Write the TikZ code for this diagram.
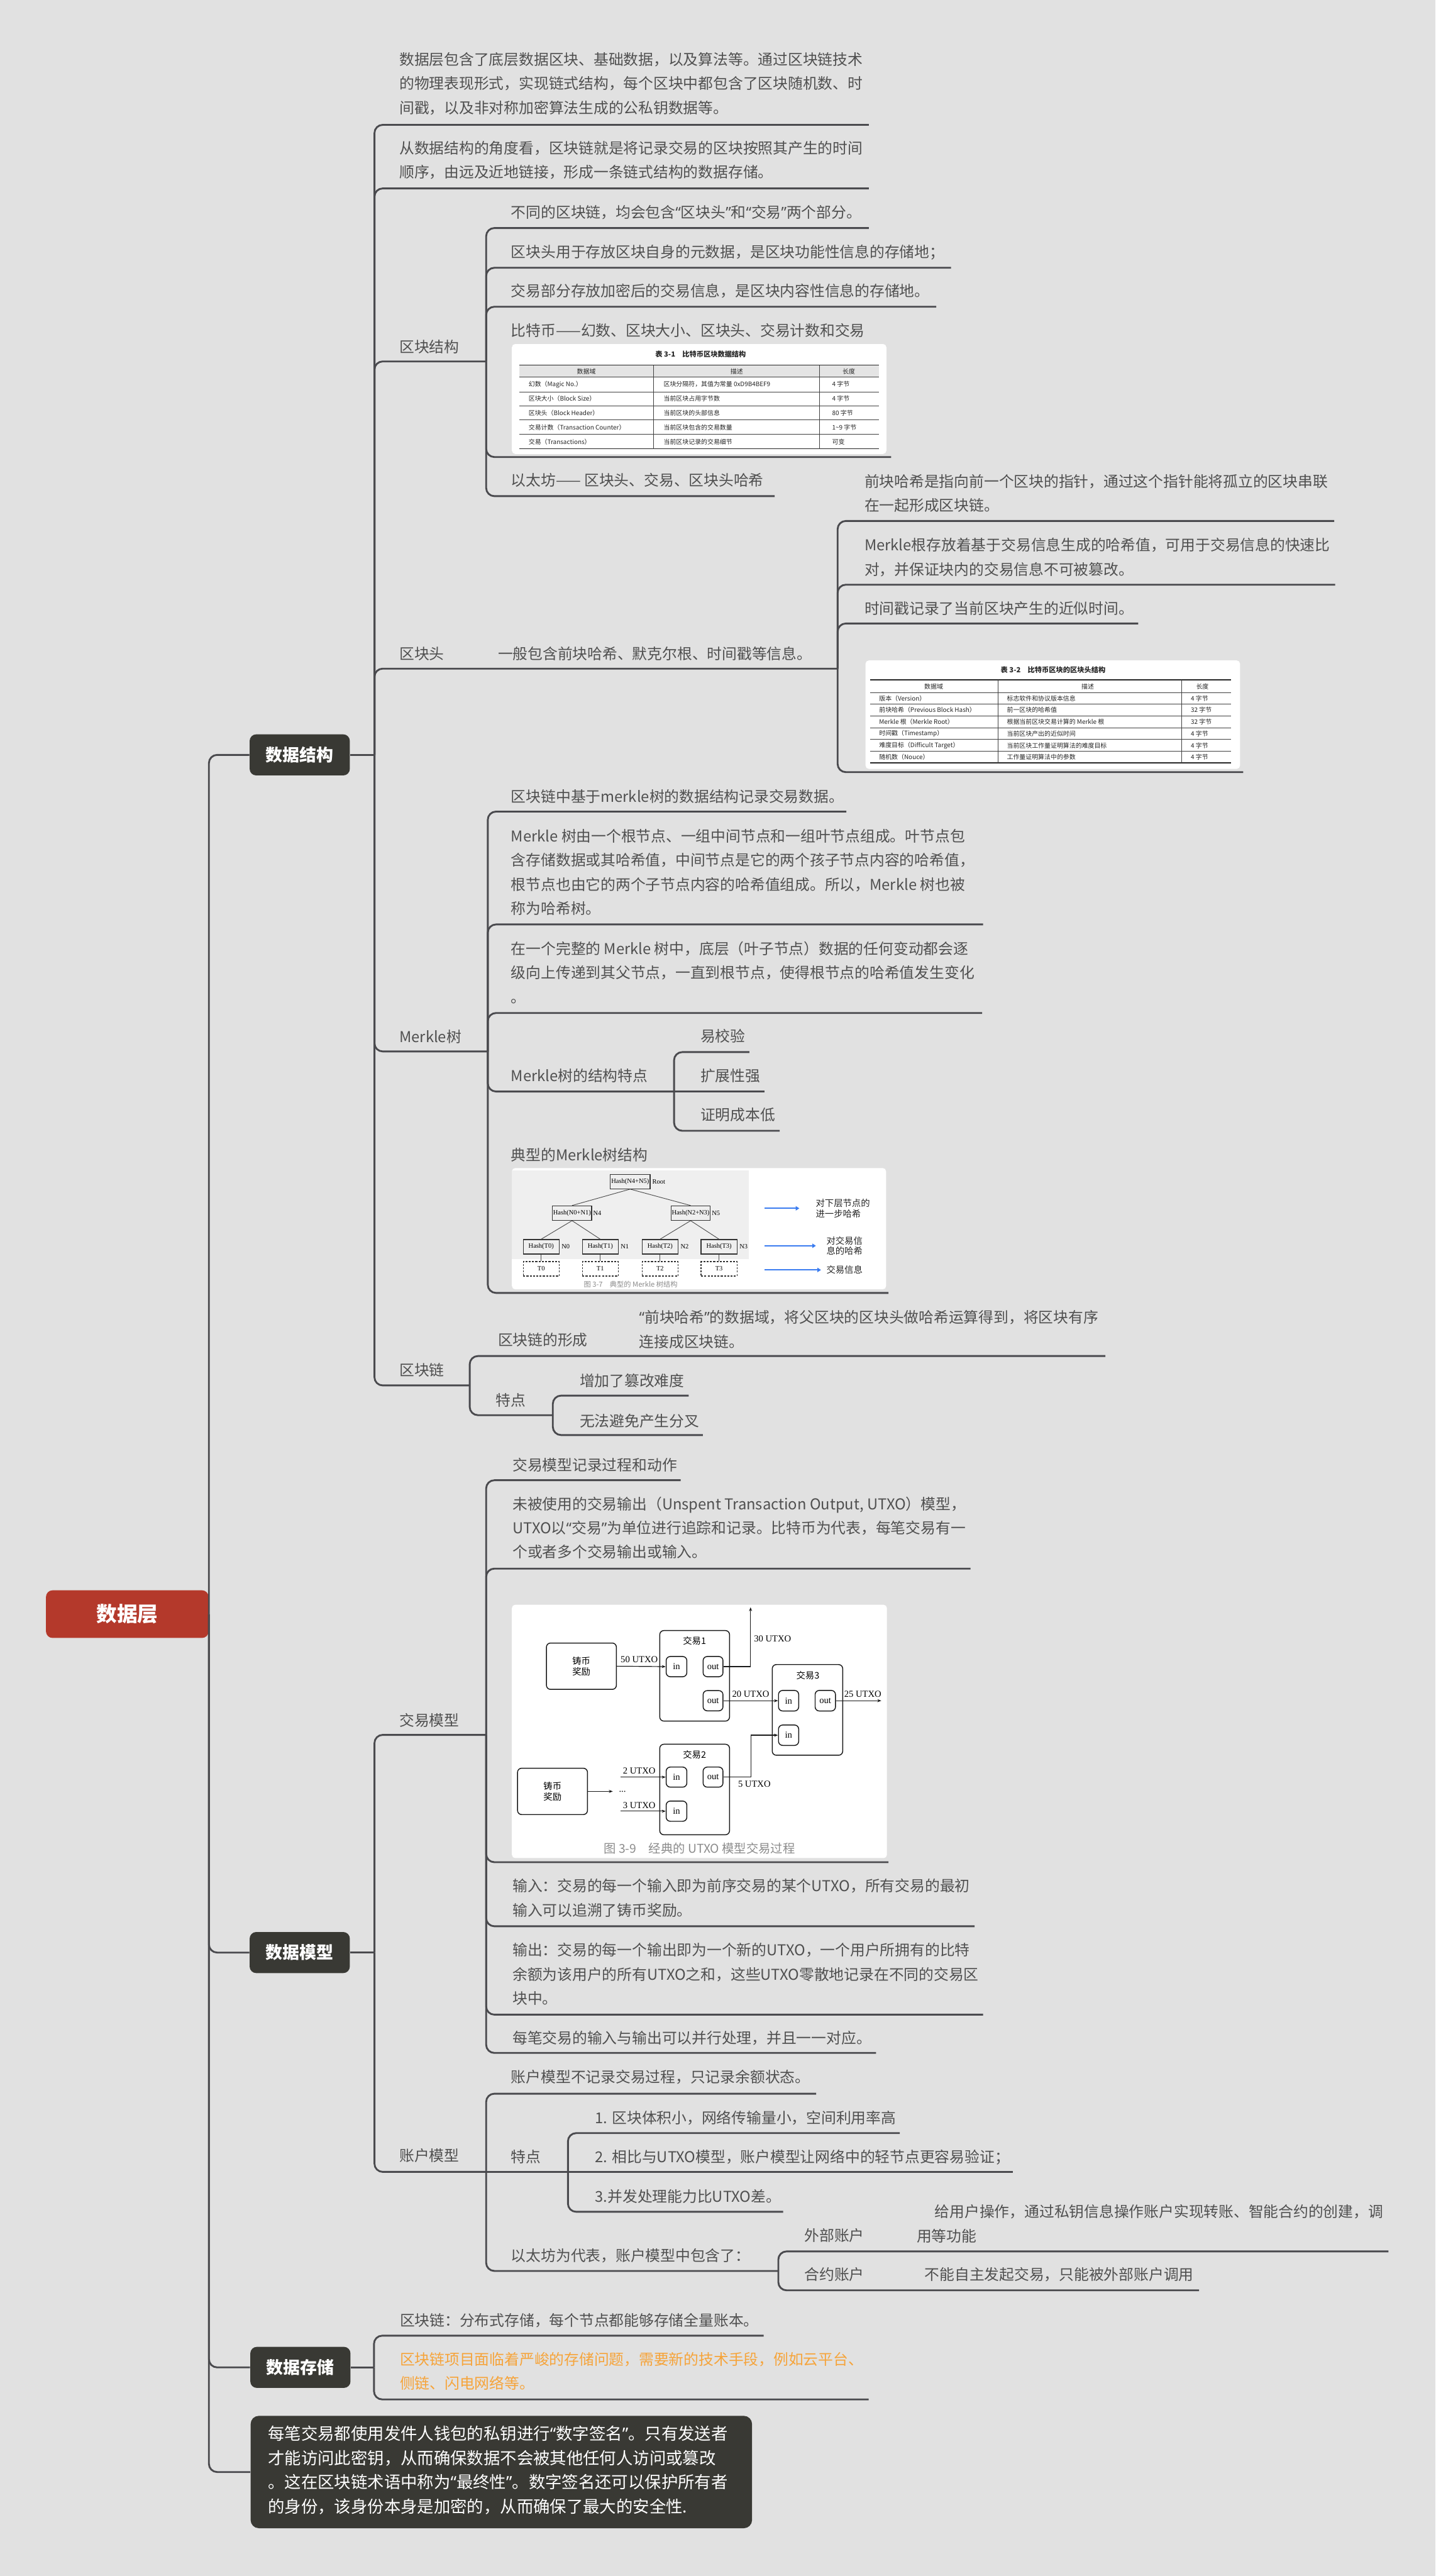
\documentclass[tikz,border=0pt]{standalone}
\usepackage{fontspec}
\setmainfont{Noto Sans CJK SC}
\newfontfamily\figserif{Liberation Serif}
\newfontfamily\quotefont{Noto Sans}
\usetikzlibrary{arrows.meta,positioning}

\definecolor{bgc}{HTML}{E1E1E1}
\definecolor{linec}{HTML}{4A4A4E}
\definecolor{txtc}{HTML}{505050}
\definecolor{boxc}{HTML}{393934}
\definecolor{rootc}{HTML}{B4392B}
\definecolor{orangec}{HTML}{F6A43A}
\definecolor{bluec}{HTML}{3A7CF0}
\definecolor{panelc}{HTML}{EFEFEF}
\definecolor{hdrc}{HTML}{E4E4E4}
\definecolor{capc}{HTML}{8C8C8C}

\newcommand\fmain{\fontsize{9.1}{14.7}\selectfont}
\newcommand\ftab{\fontsize{3.8}{4.6}\selectfont}
\newcommand\ffig{\fontsize{5.5}{6.4}\selectfont}
\newcommand\myoq{{\quotefont “}}
\newcommand\mycq{{\quotefont ”}}

\tikzset{
  link/.style={draw=linec, line width=1.1pt, rounded corners=5pt},
  txt/.style={anchor=west, inner sep=0pt, font=\fmain, text=txtc, align=left},
  topic/.style={fill=boxc, text=white, rounded corners=4pt, minimum width=61pt,
    minimum height=25pt, inner sep=0pt, font=\bfseries\fontsize{10.3}{12}\selectfont},
  rootbox/.style={fill=rootc, text=white, rounded corners=4pt, minimum width=99pt,
    minimum height=29pt, inner sep=0pt, font=\bfseries\fontsize{12.5}{14}\selectfont},
  sigbox/.style={fill=boxc, rounded corners=5pt, minimum width=305.3pt,
    minimum height=68.4pt, inner sep=0pt},
  picbg/.style={fill=white, rounded corners=2pt},
  tabtxt/.style={anchor=west, inner sep=0pt, font=\ftab, text=black!85},
  tabhead/.style={inner sep=0pt, font=\ftab, text=black!85},
  rulethin/.style={draw=black!75, line width=0.3pt},
  rulethick/.style={draw=black!85, line width=0.6pt},
  hbox/.style={draw=black!80, line width=0.45pt, inner sep=0pt,
    font=\figserif\fontsize{4}{4.5}\selectfont, minimum height=8.8pt},
  tbox/.style={hbox, dash pattern=on 1.2pt off 0.8pt},
  hlab/.style={anchor=west, inner sep=0pt, font=\figserif\fontsize{4}{4.5}\selectfont},
  tedge/.style={draw=black!70, line width=0.35pt},
  bluearrow/.style={draw=bluec, line width=0.8pt, -{Triangle[length=2.2pt,width=2.6pt]}},
  blab/.style={anchor=west, inner sep=0pt, font=\ffig, text=black!85, align=left},
  ubox/.style={draw=black!90, line width=0.55pt, rounded corners=2.5pt, inner sep=0pt},
  uflow/.style={draw=black!90, line width=0.45pt, -{Stealth[length=2.4pt,width=1.8pt]}},
  ulab/.style={inner sep=0pt, font=\figserif\fontsize{5.6}{6}\selectfont},
  ucn/.style={inner sep=0pt, font=\ffig, align=center},
  capt/.style={inner sep=0pt, text=capc},
}

\begin{document}
\begin{tikzpicture}[x=1pt, y=-1pt]
\fill[bgc] (0,0) rectangle (874,1568);
\useasboundingbox (0,0) rectangle (874,1568);

% main topics
\node[rootbox] (root) at (77.5,982.5) {数据层};
\node[topic] (ds) at (182.5,459.5) {数据结构};
\node[topic] (dm) at (182.5,1188.5) {数据模型};
\node[topic] (dc) at (182.9,1441) {数据存储};
\node[sigbox] (sig) at (305.25,1504.7) {};
\foreach \t in {ds,dm,dc,sig}
  \draw[link] (root.east) |- (\t.west);

% ---------------- 数据结构
\draw[link] (ds.east) -- (228,459.5);
\foreach \y/\r in {76/529, 114.7/529, 220/296, 407/510, 640/297, 843.3/286}
  \draw[link] (228,459.5) |- (\r,\y);
\foreach \y/\r in {138.8/529, 163/579, 186.7/570, 278.2/542.6, 302/471.7}
  \draw[link] (296,220) |- (\r,\y);
\foreach \y/\r in {317.1/812.4, 355.9/812.9, 379.5/693, 470/757}
  \draw[link] (510,407) |- (\r,\y);
\foreach \y/\r in {494/515.3, 562.7/598.6, 616.6/598, 664.4/410.4, 787/541}
  \draw[link] (297,640) |- (\r,\y);
\foreach \y/\r in {640.4/456.3, 688.3/474.7}
  \draw[link] (410.4,664.4) |- (\r,\y);
\draw[link] (410.4,664.4) -- (465.5,664.4);
\foreach \y/\r in {825.4/673, 861.4/336.6}
  \draw[link] (286,843.3) |- (\r,\y);
\foreach \y/\r in {849.5/419.3, 873.5/427.9}
  \draw[link] (336.6,861.4) |- (\r,\y);

\node[txt] (intro1) at (243,51) {数据层包含了底层数据区块、基础数据，以及算法等。通过区块链技术\\的物理表现形式，实现链式结构，每个区块中都包含了区块随机数、时\\间戳，以及非对称加密算法生成的公私钥数据等。};
\node[txt] (intro2) at (243,97.4) {从数据结构的角度看，区块链就是将记录交易的区块按照其产生的时间\\顺序，由远及近地链接，形成一条链式结构的数据存储。};

\node[txt] (qkjg) at (243,211) {区块结构};
\node[txt] (qkjgA) at (311,129.3) {不同的区块链，均会包含\myoq 区块头\mycq 和\myoq 交易\mycq 两个部分。};
\node[txt] (qkjgB) at (311,153.6) {区块头用于存放区块自身的元数据，是区块功能性信息的存储地；};
\node[txt] (qkjgC) at (311,177) {交易部分存放加密后的交易信息，是区块内容性信息的存储地。};
\node[txt] (qkjgD) at (311,201.3) {比特币——幻数、区块大小、区块头、交易计数和交易};
\node[txt] (qkjgE) at (311,292.4) {以太坊—— 区块头、交易、区块头哈希};

% table 3-1
\node[picbg, minimum width=228pt, minimum height=66.9pt, inner sep=0pt] (tabA) at (425.7,242.85) {};
\node[tabhead, font=\bfseries\fontsize{4.3}{5}\selectfont] (tabAt) at (426.6,215.6) {表 3-1\quad 比特币区块数据结构};
\fill[hdrc] (316.2,222.3) rectangle (535.1,229.4);
\draw[rulethick] (316.2,222.3) -- (535.1,222.3) (316.2,273.2) -- (535.1,273.2);
\foreach \y in {229.4,238.5,247,255.6,264.4}
  \draw[rulethin] (316.2,\y) -- (535.1,\y);
\foreach \x in {398,498.9}
  \draw[rulethin] (\x,222.3) -- (\x,273.2);
\node[tabhead] (tabAh1) at (357,226.1) {数据域};
\node[tabhead] (tabAh2) at (448.6,226.1) {描述};
\node[tabhead] (tabAh3) at (516.8,226.1) {长度};
\foreach \a/\b/\c [count=\i] in {幻数（Magic No.）/区块分隔符，其值为常量 0xD9B4BEF9/4 字节,
    区块大小（Block Size）/当前区块占用字节数/4 字节,
    区块头（Block Header）/当前区块的头部信息/80 字节,
    交易计数（Transaction Counter）/当前区块包含的交易数量/1\textasciitilde 9 字节,
    交易（Transactions）/当前区块记录的交易细节/可变} {
  \node[tabtxt] (tabAa\i) at (321.7,{233.9+8.78*(\i-1)}) {\a};
  \node[tabtxt] (tabAb\i) at (403.9,{233.9+8.78*(\i-1)}) {\b};
  \node[tabtxt] (tabAc\i) at (506.5,{233.9+8.78*(\i-1)}) {\c};
}

\node[txt] (qkt) at (243,398) {区块头};
\node[txt] (qktSum) at (303,398) {一般包含前块哈希、默克尔根、时间戳等信息。};
\node[txt] (qktA) at (526.2,300.2) {前块哈希是指向前一个区块的指针，通过这个指针能将孤立的区块串联\\在一起形成区块链。};
\node[txt] (qktB) at (526.2,339.3) {Merkle根存放着基于交易信息生成的哈希值，可用于交易信息的快速比\\对，并保证块内的交易信息不可被篡改。};
\node[txt] (qktC) at (526.2,370.5) {时间戳记录了当前区块产生的近似时间。};

% table 3-2
\node[picbg, minimum width=228pt, minimum height=66pt, inner sep=0pt] (tabB) at (641,435) {};
\node[tabhead, font=\bfseries\fontsize{4.3}{5}\selectfont] (tabBt) at (641.2,407.7) {表 3-2\quad 比特币区块的区块头结构};
\draw[rulethick] (529.7,413.9) -- (749.6,413.9) (529.7,464.4) -- (749.6,464.4);
\foreach \y in {421.5,428.7,435.8,443,450.1,457.2}
  \draw[rulethin] (529.7,\y) -- (749.6,\y);
\foreach \x in {607.8,719.3}
  \draw[rulethin] (\x,413.9) -- (\x,464.4);
\node[tabhead] (tabBh1) at (568.5,418) {数据域};
\node[tabhead] (tabBh2) at (662.3,418) {描述};
\node[tabhead] (tabBh3) at (732.1,418) {长度};
\foreach \a/\b/\c [count=\i] in {版本（Version）/标志软件和协议版本信息/4 字节,
    前块哈希（Previous Block Hash）/前一区块的哈希值/32 字节,
    Merkle 根（Merkle Root）/根据当前区块交易计算的 Merkle 根/32 字节,
    时间戳（Timestamp）/当前区块产出的近似时间/4 字节,
    难度目标（Difficult Target）/当前区块工作量证明算法的难度目标/4 字节,
    随机数（Nouce）/工作量证明算法中的参数/4 字节} {
  \node[tabtxt] (tabBa\i) at (535.1,{425.1+7.16*(\i-1)}) {\a};
  \node[tabtxt] (tabBb\i) at (612.9,{425.1+7.16*(\i-1)}) {\b};
  \node[tabtxt] (tabBc\i) at (724.9,{425.1+7.16*(\i-1)}) {\c};
}

\node[txt] (mk) at (243,631) {Merkle树};
\node[txt] (mkA) at (311,484.9) {区块链中基于merkle树的数据结构记录交易数据。};
\node[txt] (mkB) at (311,531) {Merkle 树由一个根节点、一组中间节点和一组叶节点组成。叶节点包\\含存储数据或其哈希值，中间节点是它的两个孩子节点内容的哈希值，\\根节点也由它的两个子节点内容的哈希值组成。所以，Merkle 树也被\\称为哈希树。};
\node[txt] (mkC) at (311,591.9) {在一个完整的 Merkle 树中，底层（叶子节点）数据的任何变动都会逐\\级向上传递到其父节点，一直到根节点，使得根节点的哈希值发生变化\\。};
\node[txt] (mkD) at (311,654.7) {Merkle树的结构特点};
\node[txt] (mkD1) at (426.3,630.6) {易校验};
\node[txt] (mkD2) at (426.3,654.7) {扩展性强};
\node[txt] (mkD3) at (426.3,678.7) {证明成本低};
\node[txt] (mkE) at (311,703) {典型的Merkle树结构};

% merkle figure
\node[picbg, minimum width=227.8pt, minimum height=73.8pt, inner sep=0pt] (mkfig) at (425.6,747.9) {};
\fill[panelc] (311.7,712.4) rectangle (456,766.3);
\node[hbox, minimum width=24.2pt] (hroot) at (383.7,719.2) {Hash(N4+N5)};
\node[hlab] (lroot) at (397,719.2) {Root};
\node[hbox, minimum width=23.8pt] (hn4) at (348.3,738.4) {Hash(N0+N1)};
\node[hlab] (ln4) at (361,738.4) {N4};
\node[hbox, minimum width=23.8pt] (hn5) at (420.5,738.4) {Hash(N2+N3)};
\node[hlab] (ln5) at (433.3,738.4) {N5};
\foreach \i/\x in {0/329.5,1/365.5,2/401.9,3/437.8} {
  \node[hbox, minimum width=21.9pt] (h\i) at (\x,758.9) {Hash(T\i)};
  \node[hlab] (n\i) at (\x+12.3,758.9) {N\i};
  \node[tbox, minimum width=21.9pt] (t\i) at (\x,772.3) {T\i};
  \draw[tedge] (h\i.south) -- (t\i.north);
}
\draw[tedge] (hroot.south) -- (hn4.north) (hroot.south) -- (hn5.north);
\draw[tedge] (hn4.south) -- (h0.north) (hn4.south) -- (h1.north);
\draw[tedge] (hn5.south) -- (h2.north) (hn5.south) -- (h3.north);
\node[capt, font=\fontsize{4.3}{5}\selectfont] (mkcap) at (384,781.9) {图 3-7\quad 典型的 Merkle 树结构};
\draw[bluearrow] (465.5,735.5) -- (486.7,735.5);
\draw[bluearrow] (465.5,758.3) -- (496.8,758.3);
\draw[bluearrow] (465.5,773) -- (499.9,773);
\node[blab] (bl1) at (496.5,735.5) {对下层节点的\\进一步哈希};
\node[blab] (bl2) at (503,758.3) {对交易信\\息的哈希};
\node[blab] (bl3) at (503,773) {交易信息};

\node[txt] (qkl) at (243,833.8) {区块链};
\node[txt] (qklA) at (303,815.7) {区块链的形成};
\node[txt] (qklA1) at (389,809.3) {\myoq 前块哈希\mycq 的数据域，将父区块的区块头做哈希运算得到，将区块有序\\连接成区块链。};
\node[txt] (qklB) at (301.8,852.4) {特点};
\node[txt] (qklB1) at (352.8,840.5) {增加了篡改难度};
\node[txt] (qklB2) at (352.8,864.8) {无法避免产生分叉};

% ---------------- 数据模型
\draw[link] (dm.east) -- (228,1188.5);
\foreach \y in {1056,1322}
  \draw[link] (228,1188.5) |- (296,\y);
\foreach \y/\r in {901/414.4, 954.8/590.9, 1133.5/541, 1172.5/593.4, 1226.3/598.6, 1249.6/533.4}
  \draw[link] (296,1056) |- (\r,\y);
\foreach \y/\r in {1274.4/496.9, 1382.3/473.9}
  \draw[link] (296,1322) |- (\r,\y);
\draw[link] (296,1322) -- (345.8,1322);
\foreach \y/\r in {1298.4/547.8, 1346.3/476.8}
  \draw[link] (345.8,1322) |- (\r,\y);
\draw[link] (345.8,1322) -- (616.6,1322);
\foreach \y/\r in {1370.4/845.4, 1394.1/730.1}
  \draw[link] (473.9,1382.3) |- (\r,\y);

\node[txt] (jymx) at (243,1047) {交易模型};
\node[txt] (jymxA) at (311.9,891.9) {交易模型记录过程和动作};
\node[txt] (jymxB) at (311.9,930) {未被使用的交易输出（Unspent Transaction Output, UTXO）模型，\\UTXO以\myoq 交易\mycq 为单位进行追踪和记录。比特币为代表，每笔交易有一\\个或者多个交易输出或输入。};

% utxo figure
\node[picbg, minimum width=228.3pt, minimum height=154.2pt, inner sep=0pt] (ufig) at (425.85,1053.9) {};
\node[ubox, ucn, minimum width=42.6pt, minimum height=28.2pt] (mint1) at (354,1014.2) {铸币\\奖励};
\node[ubox, minimum width=42.5pt, minimum height=55.1pt] (tx1) at (422.95,1020.05) {};
\node[ucn] (tx1t) at (422.9,998.6) {交易1};
\node[ubox, ulab, minimum width=12.6pt, minimum height=12.3pt] (in11) at (411.9,1014.45) {in};
\node[ubox, ulab, minimum width=12.1pt, minimum height=12.3pt] (out11) at (434.15,1014.45) {out};
\node[ubox, ulab, minimum width=12.1pt, minimum height=12.3pt] (out12) at (434.15,1035.2) {out};
\node[ubox, minimum width=42.9pt, minimum height=55.2pt] (tx3) at (491.65,1040.8) {};
\node[ucn] (tx3t) at (491.9,1019.9) {交易3};
\node[ubox, ulab, minimum width=12.3pt, minimum height=12.5pt] (in31) at (480.15,1035.2) {in};
\node[ubox, ulab, minimum width=12.4pt, minimum height=12.5pt] (out31) at (502.5,1035.2) {out};
\node[ubox, ulab, minimum width=12.3pt, minimum height=12.4pt] (in32) at (480.15,1056.2) {in};
\node[ubox, minimum width=42.5pt, minimum height=55.1pt] (tx2) at (422.95,1089.25) {};
\node[ucn] (tx2t) at (422.9,1067.9) {交易2};
\node[ubox, ulab, minimum width=12.6pt, minimum height=12.2pt] (in21) at (411.9,1081.7) {in};
\node[ubox, ulab, minimum width=12.1pt, minimum height=12.2pt] (out21) at (434.15,1081.7) {out};
\node[ubox, ulab, minimum width=12.6pt, minimum height=12.3pt] (in22) at (411.9,1102.45) {in};
\node[ubox, ucn, minimum width=42.6pt, minimum height=28.2pt] (mint2) at (336.4,1090.4) {铸币\\奖励};
\draw[uflow] (mint1.east) -- (in11.west);
\node[ulab] (u50) at (389.2,1010.2) {50 UTXO};
\draw[uflow] (out11.east) -- (457,1014.45) -- (457,978.3);
\node[ulab] (u30) at (470.4,997.6) {30 UTXO};
\draw[uflow] (out12.east) -- (in31.west);
\node[ulab] (u20) at (457.1,1031.2) {20 UTXO};
\draw[uflow] (out31.east) -- (536.6,1035.2);
\node[ulab] (u25) at (525.3,1031.2) {25 UTXO};
\draw[uflow] (out21.east) -- (457.4,1081.7) |- (in32.west);
\node[ulab] (u5) at (459.3,1085.9) {5 UTXO};
\draw[uflow] (377.8,1081.7) -- (in21.west);
\node[ulab] (u2) at (389.2,1078) {2 UTXO};
\draw[uflow] (377.8,1102.45) -- (in22.west);
\node[ulab] (u3) at (389.2,1099) {3 UTXO};
\draw[uflow] (mint2.east) -- (373.1,1090.4);
\node[ulab] (udots) at (379,1090.6) {...};
\node[capt, font=\fontsize{7.4}{8}\selectfont] (ucap) at (425.9,1125.2) {图 3-9\quad 经典的 UTXO 模型交易过程};

\node[txt] (jymxC) at (311.9,1155.3) {输入：交易的每一个输入即为前序交易的某个UTXO，所有交易的最初\\输入可以追溯了铸币奖励。};
\node[txt] (jymxD) at (311.9,1201.7) {输出：交易的每一个输出即为一个新的UTXO，一个用户所拥有的比特\\余额为该用户的所有UTXO之和，这些UTXO零散地记录在不同的交易区\\块中。};
\node[txt] (jymxE) at (311.9,1240.6) {每笔交易的输入与输出可以并行处理，并且一一对应。};

\node[txt] (zhmx) at (243,1312) {账户模型};
\node[txt] (zhmxA) at (311,1264.4) {账户模型不记录交易过程，只记录余额状态。};
\node[txt] (zhmxB) at (311,1313) {特点};
\node[txt] (zhmxB1) at (362.2,1289.2) {1. 区块体积小，网络传输量小，空间利用率高};
\node[txt] (zhmxB2) at (362.2,1313) {2. 相比与UTXO模型，账户模型让网络中的轻节点更容易验证；};
\node[txt] (zhmxB3) at (362.2,1336.8) {3.并发处理能力比UTXO差。};
\node[txt] (zhmxC) at (311,1373) {以太坊为代表，账户模型中包含了：};
\node[txt] (wbzh) at (489.6,1360.6) {外部账户};
\node[txt] (wbzhA) at (558,1353.5) {\hspace*{11pt}给用户操作，通过私钥信息操作账户实现转账、智能合约的创建，调\\用等功能};
\node[txt] (hyzh) at (489.6,1384.4) {合约账户};
\node[txt] (hyzhA) at (562.8,1384.4) {不能自主发起交易，只能被外部账户调用};

% ---------------- 数据存储
\draw[link] (dc.east) -- (227.7,1441);
\foreach \y/\r in {1421.7/465, 1460.5/528.9}
  \draw[link] (227.7,1441) |- (\r,\y);
\node[txt] (ccA) at (243.3,1412.4) {区块链：分布式存储，每个节点都能够存储全量账本。};
\node[txt, text=orangec] (ccB) at (243.3,1443.4) {区块链项目面临着严峻的存储问题，需要新的技术手段，例如云平台、\\侧链、闪电网络等。};

\node[txt, text=white, font=\fontsize{10.1}{14.77}\selectfont] (sigt) at (163,1503.55) {每笔交易都使用发件人钱包的私钥进行\myoq 数字签名\mycq 。只有发送者\\才能访问此密钥，从而确保数据不会被其他任何人访问或篡改\\。这在区块链术语中称为\myoq 最终性\mycq 。数字签名还可以保护所有者\\的身份，该身份本身是加密的，从而确保了最大的安全性.};
\end{tikzpicture}
\end{document}
